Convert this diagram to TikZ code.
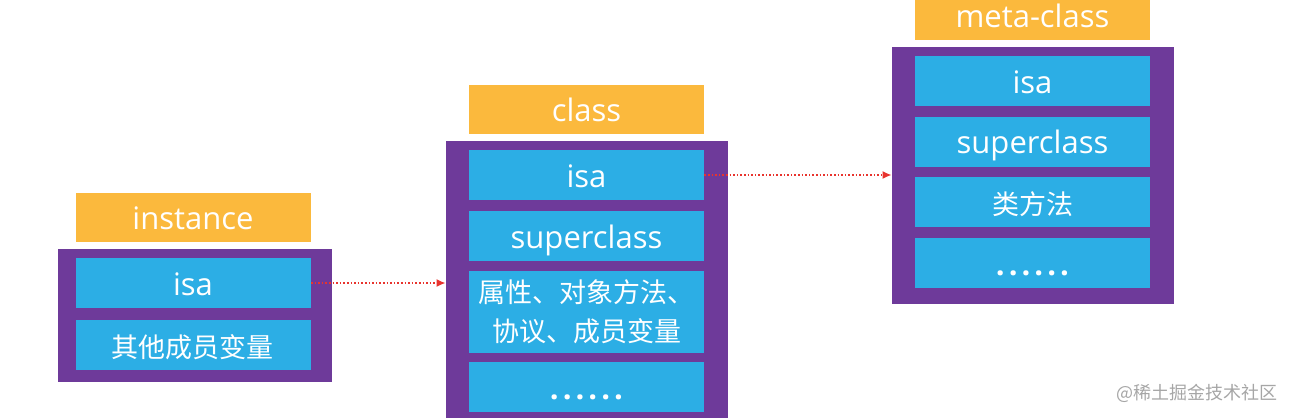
\documentclass[tikz,border=0pt]{standalone}
\usepackage{fontspec}
\setmainfont{Open Sans}
\newfontfamily\cjk{Noto Sans CJK SC}
\usetikzlibrary{arrows.meta,positioning}
\definecolor{framecol}{HTML}{6E3A9A}
\definecolor{slotcol}{HTML}{2CAEE5}
\definecolor{tagcol}{HTML}{FBB93D}
\definecolor{linkcol}{HTML}{E8342E}
\newcommand\moredots{\bfseries.\kern2pt.\kern2pt.\kern2pt.\kern2pt.\kern2pt.}
\begin{document}
\begin{tikzpicture}[x=.5pt,y=-.5pt,font=\fontsize{15.5}{18}\selectfont,
	frame/.style={fill=framecol,minimum width=141pt,inner sep=0pt},
	slot/.style={fill=slotcol,text=white,minimum width=117.5pt,minimum height=25pt,inner sep=0pt,text height=12pt,text depth=0pt},
	tag/.style={slot,fill=tagcol,minimum height=24.5pt},
	link/.style={linkcol,densely dotted,thick,-{Latex[length=4.5pt,width=4pt]}}]
	\useasboundingbox(0,0)rectangle(1292,418);
	\node[frame,minimum width=137pt,minimum height=66.5pt](inst)at(195,315.5){};
	\node[frame,minimum height=139.5pt](cls)at(587,280.5){};
	\node[frame,minimum height=128.5pt](meta)at(1033,175.5){};
	\node[tag](inst-t)at(193,217.5){instance};
	\node[tag](cls-t)at(586.5,109.5){class};
	\node[tag](meta-t)at(1032.5,15.5){meta-class};
	\node[slot](inst-1)at(193,283){isa};
	\node[slot,font=\cjk\fontsize{13.5}{16}\selectfont](inst-2)at(193,345){其他成员变量};
	\node[slot](cls-1)at(586.5,175){isa};
	\node[slot](cls-2)at(586.5,236){superclass};
	\node[slot,minimum height=41pt,text height=,text depth=,align=center,
		font=\cjk\fontsize{13.5}{19.5}\selectfont](cls-3)at(586.5,312){属性、对象方法、\\协议、成员变量};
	\node[slot](cls-4)at(586.5,387){\moredots};
	\foreach\n/\t in {1/isa,2/superclass,3/{\cjk\fontsize{13.5}{16}\selectfont 类方法},4/\moredots}{%
	\node[slot](meta-\n)at(1032.5,{81+60.67*(\n-1)}){\t};}
	\draw[link](inst-1.east)--(inst-1.east-|cls.west);
	\draw[link](cls-1.east)--(cls-1.east-|meta.west);
	\node[text=black!35,font=\cjk\fontsize{9}{11}\selectfont](mark)at(1197,393){@稀土掘金技术社区};
\end{tikzpicture}
\end{document}
